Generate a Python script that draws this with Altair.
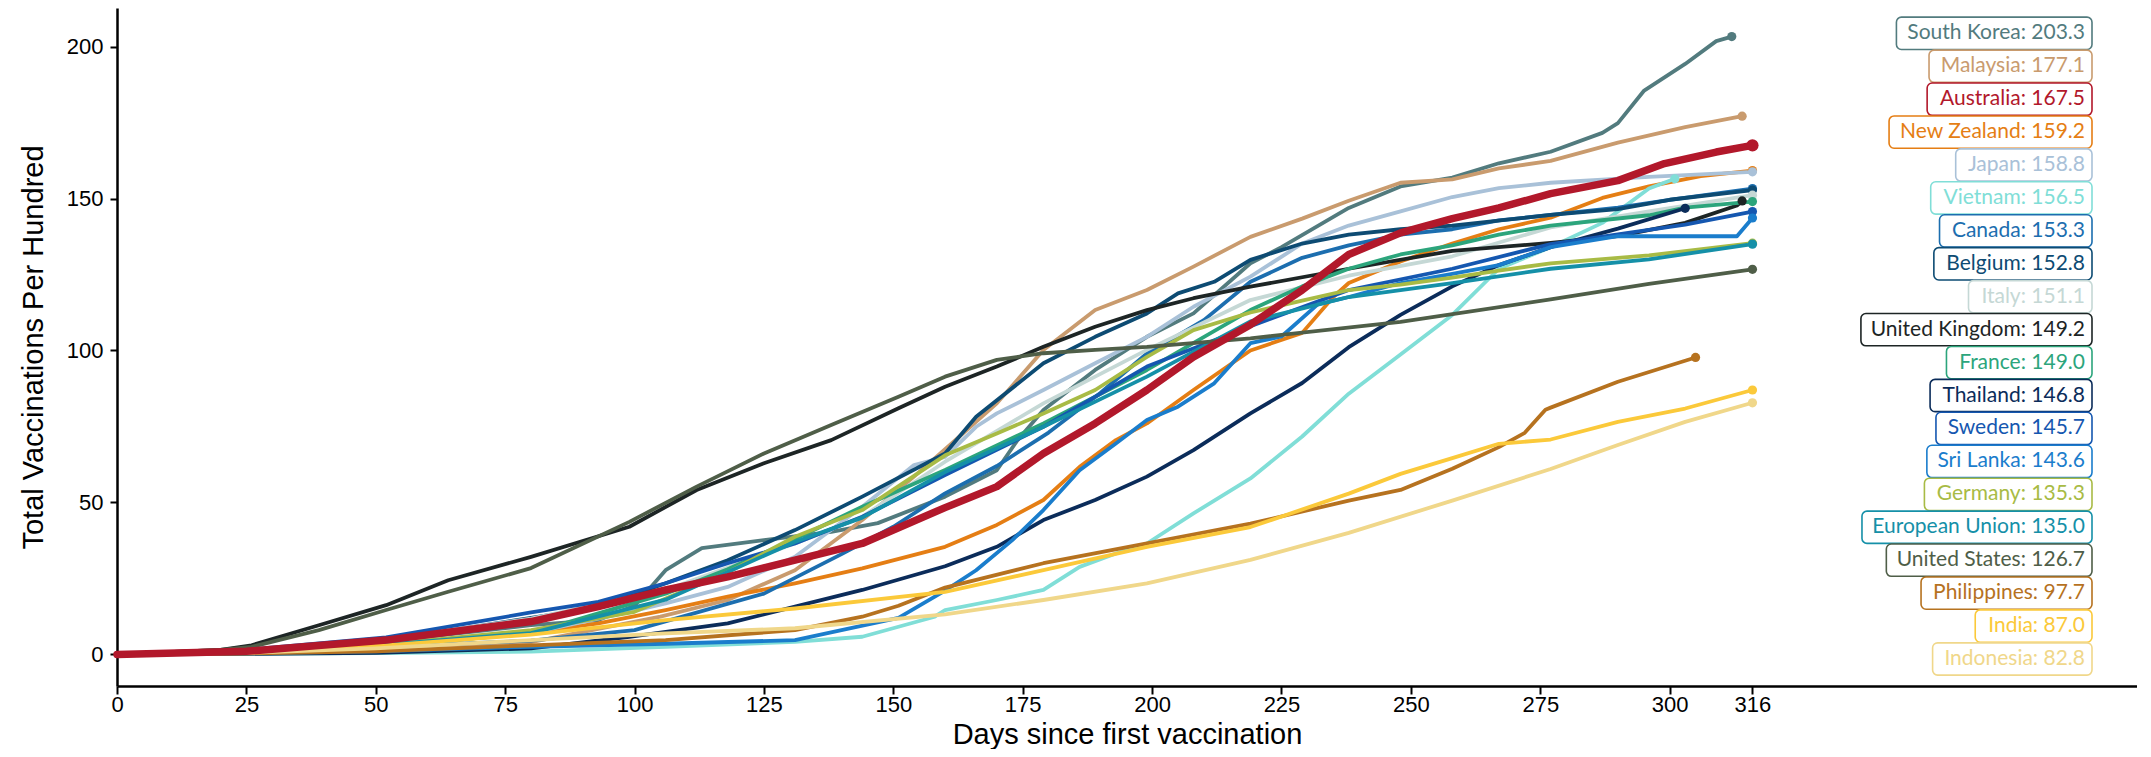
import altair as alt
import pandas as pd

# ---------------- data ----------------
countries = ["South Korea", "Malaysia", "Australia", "New Zealand", "Japan", "Vietnam",
             "Canada", "Belgium", "Italy", "United Kingdom", "France", "Thailand", "Sweden",
             "Sri Lanka", "Germany", "European Union", "United States", "Philippines",
             "India", "Indonesia"]
final_values = [203.3, 177.1, 167.5, 159.2, 158.8, 156.5, 153.3, 152.8, 151.1, 149.2,
                149.0, 146.8, 145.7, 143.6, 135.3, 135.0, 126.7, 97.7, 87.0, 82.8]
colors = ["#527b7e", "#c99b6e", "#b2182b", "#e57e14", "#a9c1d8", "#80ded7",
          "#1c6eaf", "#0d4b73", "#c5d8d5", "#1d2525", "#2ca57c", "#0b2c5a", "#1557b0",
          "#1a7dcc", "#a8bb45", "#1590a8", "#4f5e48", "#b6721f", "#fbc93a", "#f0d78a"]

kor_days = [0, 25, 50, 80, 93, 100, 106, 113, 125, 138, 147, 160, 170, 174, 179, 189, 199, 208, 219, 225, 238, 248, 258, 267, 277, 287, 290, 295, 303, 309, 312]
kor_vals = [0, 1, 4, 9.6, 11.3, 16, 27.7, 35, 37.6, 40.3, 43.2, 51.9, 60.6, 70.5, 80.4, 93.6, 104.5, 112.2, 128.7, 134, 146.9, 154, 156.9, 161.6, 165.4, 171.6, 174.8, 185.4, 194.3, 201.8, 203.3]

mys_days = [0, 25, 50, 80, 105, 118, 131, 144, 154, 160, 170, 179, 189, 199, 208, 219, 229, 238, 248, 258, 267, 277, 290, 303, 314]
mys_vals = [0, 0.5, 1.5, 4, 12.4, 17.9, 27.7, 44.2, 58.5, 67.5, 82.6, 100.2, 113.3, 119.9, 127.6, 137.4, 143.4, 149.3, 155.2, 156.3, 159.9, 162.4, 168.4, 173.5, 177.1]

aus_days = [0, 25, 52, 80, 93, 106, 118, 131, 144, 160, 170, 179, 189, 199, 208, 219, 229, 238, 248, 258, 267, 277, 290, 299, 309, 316]
aus_vals = [0, 1, 4.7, 10.8, 15.7, 21.2, 25.5, 31, 36.5, 48.3, 55.2, 66.1, 76, 87, 97.9, 108.5, 119.9, 131.6, 138.7, 143.4, 146.9, 151.6, 155.9, 161.5, 165.3, 167.5]

nzl_days = [0, 25, 52, 80, 93, 106, 118, 131, 144, 160, 170, 179, 186, 193, 199, 208, 219, 229, 235, 238, 248, 258, 267, 277, 287, 296, 306, 316]
nzl_vals = [0, 0.5, 2.5, 7.2, 10.2, 14.6, 19, 23.4, 28.3, 35.4, 42.6, 50.8, 61.7, 70.5, 76, 87, 100, 105.8, 117.6, 122.2, 129.3, 135.2, 139.9, 143.7, 150.2, 154, 157.4, 159.2]

jpn_days = [0, 25, 50, 80, 99, 106, 118, 131, 144, 154, 160, 166, 170, 179, 189, 199, 208, 219, 229, 238, 248, 258, 267, 277, 296, 316]
jpn_vals = [0, 0.5, 2.5, 7, 14, 16.8, 22.2, 32.1, 48.6, 62.3, 65, 74.9, 79.3, 87, 95.8, 104.5, 114.4, 124.3, 135.2, 141.1, 145.8, 150.5, 153.4, 155.2, 157.1, 158.8]

vnm_days = [0, 25, 50, 80, 106, 131, 144, 151, 158, 160, 170, 179, 186, 193, 199, 208, 219, 229, 238, 248, 258, 267, 277, 287, 296, 301]
vnm_vals = [0, 0.2, 0.4, 0.9, 2.5, 4.1, 5.8, 9.1, 12.4, 14.6, 17.9, 21.2, 28.8, 33.2, 36.5, 46.4, 57.9, 71.7, 85.8, 98.7, 111.7, 126.9, 134, 142, 153.3, 156.5]

can_days = [0, 25, 50, 80, 100, 125, 140, 150, 160, 170, 180, 190, 199, 210, 219, 229, 238, 248, 258, 267, 277, 290, 300, 316]
can_vals = [0, 0.8, 2.5, 4.5, 8, 20, 33, 42, 53, 62, 73, 86, 99, 110, 122.6, 130.5, 134.6, 138.1, 139.9, 142.8, 144.6, 147, 149.6, 153.3]

bel_days = [0, 25, 50, 80, 93, 106, 118, 131, 144, 160, 166, 179, 189, 199, 205, 212, 219, 229, 238, 248, 258, 277, 290, 300, 316]
bel_vals = [0, 1, 4, 12, 15.5, 23.4, 31, 40.9, 51.9, 66.1, 78.2, 95.8, 104.5, 112.2, 118.8, 122.6, 129.8, 135.2, 138.1, 139.9, 141.1, 144.6, 146.5, 149.6, 152.8]

ita_days = [0, 25, 52, 80, 106, 131, 144, 160, 179, 199, 219, 238, 258, 277, 296, 316]
ita_vals = [0, 1.2, 4.9, 11.8, 21.2, 36.5, 45.3, 63.4, 82.6, 100.2, 116.6, 124.6, 131, 140.5, 145.8, 151.1]

gbr_days = [0, 20, 26, 39, 52, 64, 80, 99, 112, 125, 138, 151, 160, 170, 179, 189, 199, 208, 219, 238, 258, 277, 290, 303, 313, 314]
gbr_vals = [0, 1.5, 3.0, 9.6, 16.2, 24.4, 32.1, 42.0, 54.1, 62.9, 70.5, 81.0, 88.1, 94.7, 101.2, 107.8, 113.3, 117.2, 121.0, 126.9, 132.8, 135.4, 137.6, 142.0, 147.7, 149.2]

fra_days = [0, 25, 50, 80, 106, 118, 131, 144, 160, 179, 199, 219, 229, 238, 248, 258, 267, 277, 296, 303, 316]
fra_vals = [0, 0.5, 2.5, 7, 20, 28, 38, 48.6, 60.7, 76, 93.6, 113.3, 121.1, 126.9, 131.6, 134.6, 138.1, 141.1, 144.5, 147, 149]

tha_days = [0, 25, 50, 80, 99, 118, 131, 144, 160, 170, 179, 189, 199, 208, 219, 229, 238, 248, 258, 267, 277, 290, 303]
tha_vals = [0, 0.2, 0.5, 2, 5.8, 10.2, 15.7, 21.2, 29, 35.4, 44.2, 50.8, 58.5, 67.2, 79.3, 89.3, 101.1, 111.7, 121.1, 128.1, 134, 140.1, 146.8]

swe_days = [0, 25, 52, 80, 93, 106, 118, 131, 144, 160, 179, 199, 219, 238, 258, 277, 290, 303, 316]
swe_vals = [0, 1.5, 5.6, 13.8, 17.3, 23.4, 30, 36.5, 45.3, 59, 74.9, 94.7, 108, 119.9, 126.9, 135, 138.2, 141.4, 145.7]

lka_days = [0, 25, 50, 80, 106, 131, 151, 160, 166, 173, 179, 186, 193, 199, 205, 212, 219, 225, 232, 238, 248, 258, 267, 277, 290, 313, 316]
lka_vals = [0, 0.3, 1, 2.5, 3.5, 4.7, 12, 21, 27.7, 37.6, 47.5, 60.6, 69.4, 77.1, 81.5, 89.2, 102.4, 104.6, 115.2, 117.6, 122.2, 125.2, 128.1, 134, 137.6, 137.6, 143.6]

deu_days = [0, 25, 50, 80, 100, 118, 131, 144, 160, 170, 179, 189, 199, 208, 219, 229, 238, 248, 258, 267, 277, 296, 316]
deu_vals = [0, 0.8, 3, 8, 14, 27, 38.7, 47.5, 65.5, 72.7, 79.3, 87, 97.9, 106.7, 112.5, 116.4, 119.9, 121.7, 124, 126.3, 128.7, 131.3, 135.3]

eu_days = [0, 25, 50, 80, 106, 131, 144, 160, 179, 199, 219, 238, 258, 277, 296, 316]
eu_vals = [0, 0.8, 3, 7, 18, 37, 45, 60, 74.9, 91.4, 109.6, 117.6, 122.2, 126.9, 130, 135]

usa_days = [0, 20, 26, 39, 52, 64, 80, 99, 112, 125, 138, 151, 160, 170, 179, 189, 199, 219, 248, 277, 296, 316]
usa_vals = [0, 1.5, 2.5, 8.0, 14.6, 20.6, 28.4, 43.6, 55.2, 66.1, 75.5, 84.8, 91.4, 96.9, 99.1, 100.2, 101.2, 104.0, 109.4, 116.8, 121.9, 126.7]

phl_days = [0, 25, 50, 80, 106, 131, 144, 151, 160, 179, 199, 219, 238, 248, 258, 267, 272, 276, 277, 290, 305]
phl_vals = [0, 0.3, 1, 3, 4.7, 8, 12.4, 16, 22, 30, 36.5, 43, 50.6, 54.1, 61.1, 68.2, 72.9, 80.5, 81.2, 89.7, 97.7]

ind_days = [0, 25, 52, 80, 106, 131, 160, 179, 199, 219, 238, 248, 258, 267, 277, 290, 303, 316]
ind_vals = [0, 0.8, 3, 6.5, 11.3, 15.1, 20.6, 27.7, 35.4, 41.9, 52.9, 59.4, 64.6, 69.3, 70.7, 76.5, 80.9, 87]

idn_days = [0, 25, 50, 80, 106, 131, 160, 179, 199, 219, 238, 258, 277, 290, 303, 316]
idn_vals = [0, 0.5, 2, 4.7, 6.9, 8.6, 13.2, 17.9, 23.4, 31.1, 40, 50.6, 61, 68.9, 76.5, 82.8]

series = [(kor_days, kor_vals), (mys_days, mys_vals), (aus_days, aus_vals), (nzl_days, nzl_vals),
          (jpn_days, jpn_vals), (vnm_days, vnm_vals), (can_days, can_vals), (bel_days, bel_vals),
          (ita_days, ita_vals), (gbr_days, gbr_vals), (fra_days, fra_vals), (tha_days, tha_vals),
          (swe_days, swe_vals), (lka_days, lka_vals), (deu_days, deu_vals), (eu_days, eu_vals),
          (usa_days, usa_vals), (phl_days, phl_vals), (ind_days, ind_vals), (idn_days, idn_vals)]

x_ticks = [0, 25, 50, 75, 100, 125, 150, 175, 200, 225, 250, 275, 300, 316]
y_ticks = [0, 50, 100, 150, 200]

# ---------------- layout ----------------
W, H = 2020, 678
X_MAX = 390.3
Y_MIN, Y_MAX = -10.4, 212.7
HIGHLIGHT = "Australia"
LABEL_FONT_SIZE = 21
LABEL_RIGHT = 1968      # right edge of label text, px from plot left
ROW_TOP_OFFSET = 25.3   # centre of first label row, px from plot top
ROW_STEP = 32.93

# approximate glyph advances (em) for the label font
_w = {' ': 0.193, ':': 0.25, '.': 0.22}
_w.update({d: 0.58 for d in "0123456789"})
_w.update({'A': .68, 'B': .64, 'C': .66, 'D': .73, 'E': .56, 'F': .54, 'G': .72, 'H': .75, 'I': .28,
           'J': .38, 'K': .65, 'L': .49, 'M': .87, 'N': .75, 'O': .78, 'P': .6, 'R': .63, 'S': .53,
           'T': .57, 'U': .72, 'V': .68, 'W': 1.0, 'Z': .6})
_w.update({'a': .49, 'b': .55, 'c': .45, 'd': .55, 'e': .51, 'f': .33, 'g': .49, 'h': .55, 'i': .24,
           'j': .24, 'k': .49, 'l': .24, 'm': .83, 'n': .55, 'o': .55, 'p': .55, 'q': .55, 'r': .36,
           's': .42, 't': .35, 'u': .55, 'v': .49, 'w': .75, 'x': .48, 'y': .49, 'z': .45})


def text_width(s):
    return sum(_w.get(ch, 0.55) for ch in s) * LABEL_FONT_SIZE


rows = []
ends = []
for c, col, (days, vals) in zip(countries, colors, series):
    for d, v in zip(days, vals):
        rows.append({"country": c, "day": d, "value": v, "color": col})
    ends.append({"country": c, "day": days[-1], "value": vals[-1], "color": col,
                 "size": 150 if c == HIGHLIGHT else 85})
df = pd.DataFrame(rows)
df_end = pd.DataFrame(ends)

y_top_rank = -ROW_TOP_OFFSET / ROW_STEP
y_bot_rank = (H - ROW_TOP_OFFSET) / ROW_STEP
lab_rows = []
for i, (c, v, col) in enumerate(zip(countries, final_values, colors)):
    txt = f"{c}: {v:.1f}"
    tw = text_width(txt)
    lab_rows.append({"label": txt, "color": col, "rank": i, "r0": i - 0.49, "r1": i + 0.49,
                     "tx": LABEL_RIGHT, "bx0": LABEL_RIGHT - tw - 15, "bx1": LABEL_RIGHT + 7})
lab = pd.DataFrame(lab_rows)

# ---------------- chart ----------------
x_scale = alt.Scale(domain=[0, X_MAX], nice=False, zero=False)
y_scale = alt.Scale(domain=[Y_MIN, Y_MAX], nice=False, zero=False)

x_axis = alt.Axis(values=x_ticks, title="Days since first vaccination", grid=False,
                  domainColor="black", domainWidth=2.5, tickColor="black", tickWidth=2,
                  tickSize=8, labelPadding=0, labelFont="Liberation Sans", labelFontSize=22,
                  labelColor="black", labelFlush=False, labelOverlap=False,
                  titleFont="Liberation Sans", titleFontSize=29, titleFontWeight="normal",
                  titleColor="black", titleBaseline="alphabetic", titleY=57)
y_axis = alt.Axis(values=y_ticks, title="Total Vaccinations Per Hundred", grid=False,
                  domainColor="black", domainWidth=2.5, tickColor="black", tickWidth=2,
                  tickSize=7, labelPadding=7, labelFont="Liberation Sans", labelFontSize=22,
                  labelColor="black", titleFont="Liberation Sans", titleFontSize=29,
                  titleFontWeight="normal", titleColor="black", titleBaseline="alphabetic",
                  titleX=-75, titleY=H / 2)

base = alt.Chart(df).encode(
    x=alt.X("day:Q", scale=x_scale, axis=x_axis),
    y=alt.Y("value:Q", scale=y_scale, axis=y_axis),
    color=alt.Color("color:N", scale=None),
    detail="country:N",
    order="day:Q",
)
lines = base.mark_line(strokeWidth=3.8, strokeCap="round", strokeJoin="round").transform_filter(
    alt.datum.country != HIGHLIGHT)
hl = base.mark_line(strokeWidth=7.5, strokeCap="round", strokeJoin="round").transform_filter(
    alt.datum.country == HIGHLIGHT)
dots = alt.Chart(df_end).mark_circle(opacity=1).encode(
    x=alt.X("day:Q", scale=x_scale, axis=x_axis),
    y=alt.Y("value:Q", scale=y_scale, axis=y_axis),
    color=alt.Color("color:N", scale=None),
    size=alt.Size("size:Q", scale=None),
)
data_layer = alt.layer(lines, hl, dots)

px_scale = alt.Scale(domain=[0, W], nice=False, zero=False)
rank_scale = alt.Scale(domain=[y_top_rank, y_bot_rank], reverse=True, nice=False, zero=False)
boxes = alt.Chart(lab).mark_rect(cornerRadius=5, fill="white", strokeWidth=1.6).encode(
    x=alt.X("bx0:Q", scale=px_scale, axis=None),
    x2="bx1:Q",
    y=alt.Y("r0:Q", scale=rank_scale, axis=None),
    y2="r1:Q",
    stroke=alt.Stroke("color:N", scale=None),
)
texts = alt.Chart(lab).mark_text(align="right", baseline="middle", font="Lato",
                                 fontSize=LABEL_FONT_SIZE).encode(
    x=alt.X("tx:Q", scale=px_scale, axis=None),
    y=alt.Y("rank:Q", scale=rank_scale, axis=None),
    text="label:N",
    color=alt.Color("color:N", scale=None),
)
label_layer = alt.layer(boxes, texts)

chart = alt.layer(data_layer, label_layer).resolve_scale(
    x="independent", y="independent"
).properties(
    width=W, height=H,
    autosize=alt.AutoSizeParams(type="none"),
    padding={"left": 109, "top": 0, "right": 0, "bottom": 63},
).configure_view(stroke=None)

chart.save("out.html", embed_options={"renderer": "svg", "actions": False})
